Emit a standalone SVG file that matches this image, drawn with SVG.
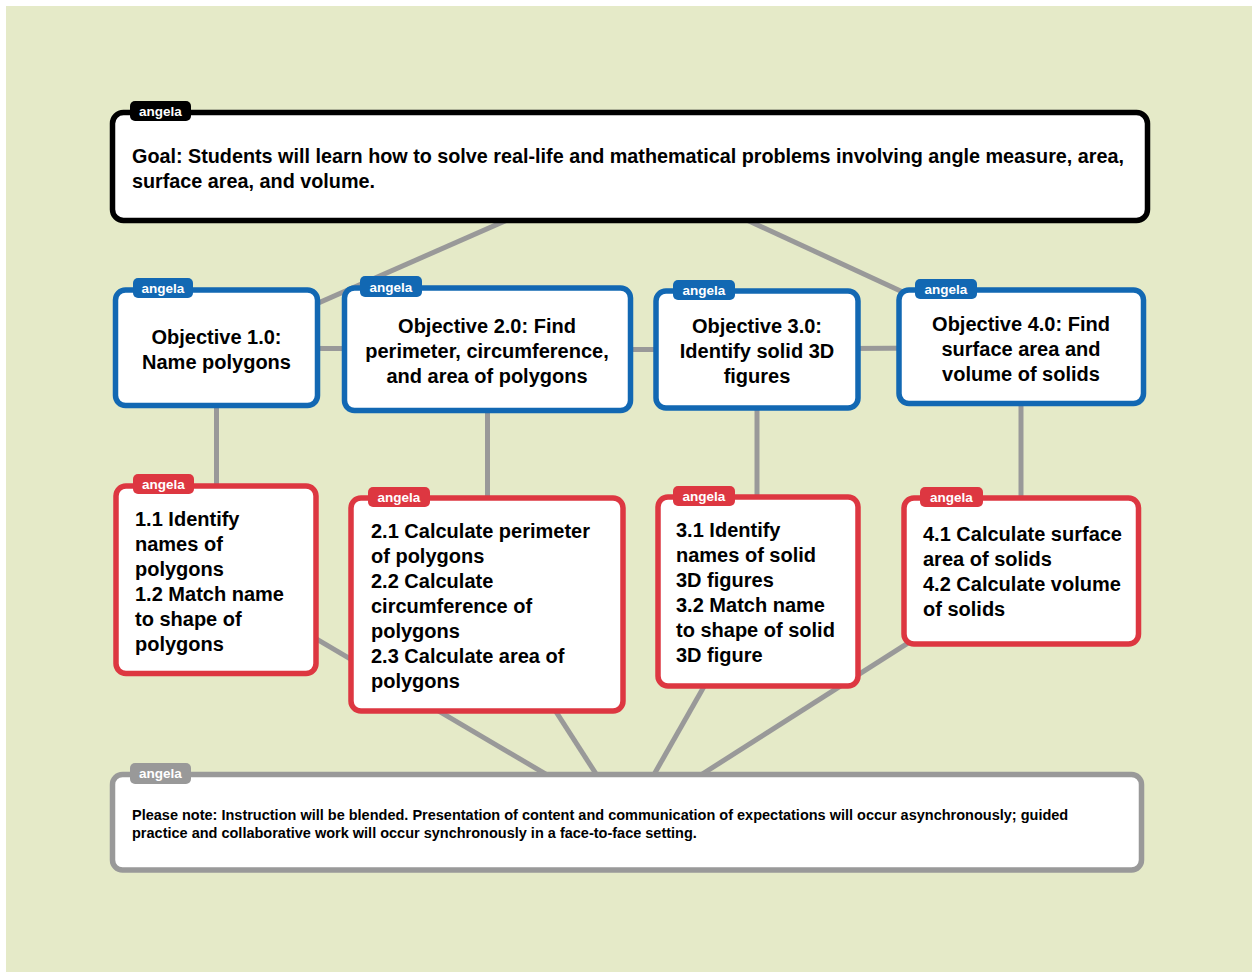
<svg xmlns="http://www.w3.org/2000/svg" width="1253" height="972" viewBox="0 0 1253 972">
<style>
.bg{fill:#E5EAC8}
.box{fill:#FFFFFF;stroke-width:5.5}
.goal{stroke:#000000}
.obj{stroke:#1268B3}
.sub{stroke:#DD3741}
.note{stroke:#999999}
.tg-goal{fill:#000000}
.tg-obj{fill:#1268B3}
.tg-sub{fill:#DD3741}
.tg-note{fill:#999999}
.tag{font-family:"Liberation Sans",Arial,sans-serif;font-weight:bold;font-size:13.5px;fill:#FFFFFF;text-anchor:middle}
.t{font-family:"Liberation Sans",Arial,sans-serif;font-weight:bold;font-size:20px;fill:#000000}
.g{font-size:19.8px}
.c{text-anchor:middle}
.n{font-family:"Liberation Sans",Arial,sans-serif;font-weight:bold;font-size:14.5px;fill:#000000}
.conn line{stroke:#999999;stroke-width:5;stroke-linecap:butt}
</style>
<rect class="bg" x="6" y="6" width="1246" height="966"/>
<g id="connectors" class="conn">
<line x1="630" y1="166" x2="216.5" y2="347.75"/>
<line x1="630" y1="166" x2="1021.25" y2="346.75"/>
<line x1="216.5" y1="348" x2="487.5" y2="349"/>
<line x1="487.5" y1="349.5" x2="757" y2="349.5"/>
<line x1="757" y1="349" x2="1021.25" y2="347.5"/>
<line x1="216.5" y1="347.75" x2="216.5" y2="579.75"/>
<line x1="487.5" y1="349.25" x2="487.5" y2="604.5"/>
<line x1="757" y1="349.5" x2="757" y2="591.5"/>
<line x1="1021" y1="346.75" x2="1021" y2="571"/>
<line x1="216" y1="579.75" x2="627" y2="822"/>
<line x1="487" y1="604.5" x2="627" y2="822"/>
<line x1="758" y1="591.5" x2="627" y2="822"/>
<line x1="1021.25" y1="571" x2="627" y2="822"/>
</g>
<g id="goal">
<rect class="box goal" x="112.5" y="112.5" width="1035" height="108" rx="11"/>
<rect class="tg-goal" x="130" y="101" width="61" height="20" rx="5"/>
<text class="tag" x="160.5" y="116">angela</text>
<text class="t g" x="132" y="163" textLength="992" lengthAdjust="spacing">Goal: Students will learn how to solve real-life and mathematical problems involving angle measure, area,</text>
<text class="t g" x="132" y="188">surface area, and volume.</text>
</g>
<g id="obj1">
<rect class="box obj" x="115.5" y="290" width="202" height="115.5" rx="10"/>
<rect class="tg-obj" x="133" y="278" width="60" height="20" rx="5"/>
<text class="tag" x="163" y="293">angela</text>
<text class="t c" x="216.5" y="344">Objective 1.0:</text>
<text class="t c" x="216.5" y="369">Name polygons</text>
</g>
<g id="obj2">
<rect class="box obj" x="344.5" y="288" width="286" height="122.5" rx="10"/>
<rect class="tg-obj" x="360" y="276" width="62" height="21" rx="5"/>
<text class="tag" x="391" y="292">angela</text>
<text class="t c" x="487" y="333">Objective 2.0: Find</text>
<text class="t c" x="487" y="358">perimeter, circumference,</text>
<text class="t c" x="487" y="383">and area of polygons</text>
</g>
<g id="obj3">
<rect class="box obj" x="656" y="291" width="202" height="117" rx="10"/>
<rect class="tg-obj" x="673" y="280" width="62" height="20" rx="5"/>
<text class="tag" x="704" y="295">angela</text>
<text class="t c" x="757" y="333">Objective 3.0:</text>
<text class="t c" x="757" y="358">Identify solid 3D</text>
<text class="t c" x="757" y="383">figures</text>
</g>
<g id="obj4">
<rect class="box obj" x="899" y="290" width="244.5" height="113.5" rx="10"/>
<rect class="tg-obj" x="915" y="279" width="62" height="20" rx="5"/>
<text class="tag" x="946" y="294">angela</text>
<text class="t c" x="1021" y="331">Objective 4.0: Find</text>
<text class="t c" x="1021" y="356">surface area and</text>
<text class="t c" x="1021" y="381">volume of solids</text>
</g>
<g id="sub1">
<rect class="box sub" x="116" y="486" width="200" height="187.5" rx="10"/>
<rect class="tg-sub" x="133" y="474" width="61" height="20" rx="5"/>
<text class="tag" x="163.5" y="489">angela</text>
<text class="t" x="135" y="526">1.1 Identify</text>
<text class="t" x="135" y="551">names of</text>
<text class="t" x="135" y="576">polygons</text>
<text class="t" x="135" y="601">1.2 Match name</text>
<text class="t" x="135" y="626">to shape of</text>
<text class="t" x="135" y="651">polygons</text>
</g>
<g id="sub2">
<rect class="box sub" x="351" y="498" width="272" height="213" rx="10"/>
<rect class="tg-sub" x="368" y="487" width="62" height="20" rx="5"/>
<text class="tag" x="399" y="502">angela</text>
<text class="t" x="371" y="538">2.1 Calculate perimeter</text>
<text class="t" x="371" y="563">of polygons</text>
<text class="t" x="371" y="588">2.2 Calculate</text>
<text class="t" x="371" y="613">circumference of</text>
<text class="t" x="371" y="638">polygons</text>
<text class="t" x="371" y="663">2.3 Calculate area of</text>
<text class="t" x="371" y="688">polygons</text>
</g>
<g id="sub3">
<rect class="box sub" x="658" y="497" width="200" height="189" rx="10"/>
<rect class="tg-sub" x="673" y="486" width="62" height="20" rx="5"/>
<text class="tag" x="704" y="501">angela</text>
<text class="t" x="676" y="537">3.1 Identify</text>
<text class="t" x="676" y="562">names of solid</text>
<text class="t" x="676" y="587">3D figures</text>
<text class="t" x="676" y="612">3.2 Match name</text>
<text class="t" x="676" y="637">to shape of solid</text>
<text class="t" x="676" y="662">3D figure</text>
</g>
<g id="sub4">
<rect class="box sub" x="904" y="498" width="234.5" height="146" rx="10"/>
<rect class="tg-sub" x="920" y="487" width="63" height="20" rx="5"/>
<text class="tag" x="951.5" y="502">angela</text>
<text class="t" x="923" y="541">4.1 Calculate surface</text>
<text class="t" x="923" y="566">area of solids</text>
<text class="t" x="923" y="591">4.2 Calculate volume</text>
<text class="t" x="923" y="616">of solids</text>
</g>
<g id="note">
<rect class="box note" x="112.5" y="774.5" width="1029" height="95.5" rx="10"/>
<rect class="tg-note" x="130" y="763" width="61" height="21" rx="5"/>
<text class="tag" x="160.5" y="778">angela</text>
<text class="n" x="132" y="820">Please note: Instruction will be blended. Presentation of content and communication of expectations will occur asynchronously; guided</text>
<text class="n" x="132" y="838">practice and collaborative work will occur synchronously in a face-to-face setting.</text>
</g>
</svg>
